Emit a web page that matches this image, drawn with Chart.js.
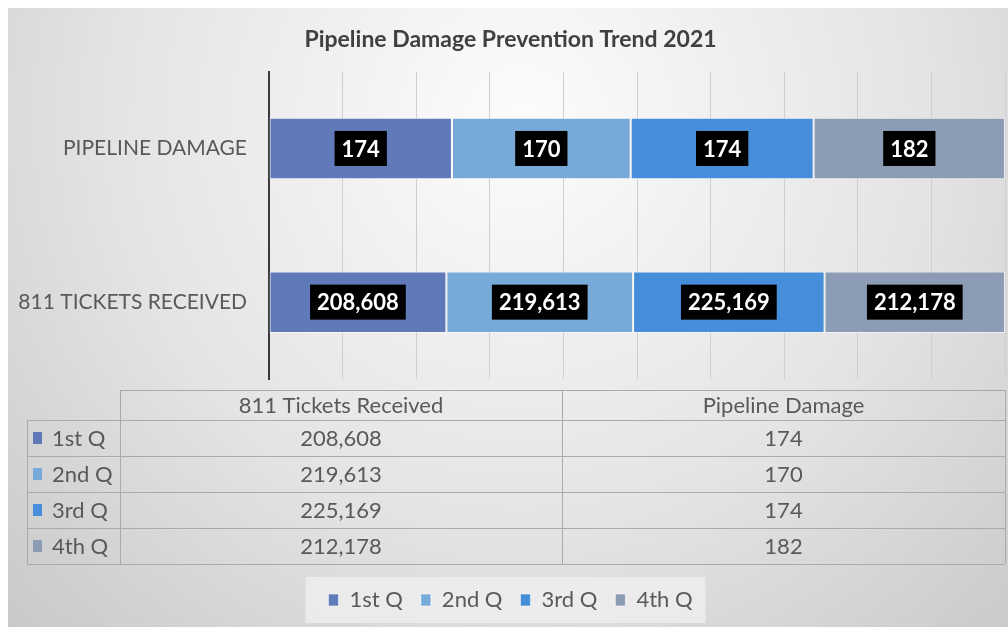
<!DOCTYPE html>
<html>
<head>
<meta charset="utf-8">
<script src="https://cdn.jsdelivr.net/npm/chart.js@4"></script>
<style>
  html, body { margin: 0; padding: 0; background: #fff; }
  #wrap { width: 1008px; height: 627px; }
</style>
</head>
<body>
<div id="wrap"><canvas id="chart" width="1008" height="627"></canvas></div>
<script>
// categories, bottom-to-top in the bar chart, left-to-right in the table
const categories = ['811 Tickets Received', 'Pipeline Damage'];
const quarters = ['1st Q', '2nd Q', '3rd Q', '4th Q'];
const q1Values = [208608, 174];
const q2Values = [219613, 170];
const q3Values = [225169, 174];
const q4Values = [212178, 182];
const quarterColors = ['#6079b8', '#78aad9', '#468ed9', '#8c9cb4'];
const xTicks = [0, 10, 20, 30, 40, 50, 60, 70, 80, 90, 100];

const seriesValues = [q1Values, q2Values, q3Values, q4Values];
const FONT = 'Lato, "Open Sans", sans-serif';

// share of each quarter within its category (100% stacked bar)
const totals = categories.map((c, i) => seriesValues.reduce((s, v) => s + v[i], 0));
const fmt = n => n.toLocaleString('en-US');

const backgroundPlugin = {
    id: 'background',
    beforeDraw(chart) {
        const ctx = chart.ctx;
        ctx.save();
        ctx.fillStyle = '#ffffff';
        ctx.fillRect(0, 0, chart.width, chart.height);
        const g = ctx.createRadialGradient(520, 120, 20, 520, 120, 720);
        g.addColorStop(0, '#fbfbfb');
        g.addColorStop(0.55, '#e4e4e4');
        g.addColorStop(1, '#c9c9c9');
        ctx.fillStyle = g;
        ctx.fillRect(8, 8, chart.width - 8, chart.height - 8);

        // lighter box behind the legend
        const boxes = chart.legend.legendHitBoxes;
        if (boxes && boxes.length) {
            const first = boxes[0], last = boxes[boxes.length - 1];
            ctx.fillStyle = 'rgba(240,240,240,0.75)';
            ctx.fillRect(first.left - 23, first.top - 12, last.left + last.width - first.left + 36, first.height + 24);
        }
        ctx.restore();
    }
};

const valueLabelPlugin = {
    id: 'valueLabels',
    afterDatasetsDraw(chart) {
        const ctx = chart.ctx;
        ctx.save();
        ctx.font = 'bold 22px ' + FONT;
        ctx.textAlign = 'center';
        ctx.textBaseline = 'middle';
        chart.data.datasets.forEach((ds, di) => {
            const meta = chart.getDatasetMeta(di);
            meta.data.forEach((bar, i) => {
                const text = fmt(seriesValues[di][i]);
                const cx = (bar.x + bar.base) / 2;
                const w = ctx.measureText(text).width + 14;
                const h = 35;
                ctx.fillStyle = '#000000';
                ctx.fillRect(cx - w / 2, bar.y - h / 2, w, h);
                ctx.fillStyle = '#ffffff';
                ctx.fillText(text, cx, bar.y + 1);
            });
        });
        ctx.restore();
    }
};

const dataTablePlugin = {
    id: 'dataTable',
    afterDraw(chart) {
        const ctx = chart.ctx;
        const top = chart.chartArea.bottom + 11;
        const headH = 30, rowH = 36;
        const xLeft = 27, xCol1 = 120, xCol2 = 562, xRight = 1005;
        const bottom = top + headH + rowH * quarters.length;
        ctx.save();
        ctx.strokeStyle = '#aaaaaa';
        ctx.lineWidth = 1;
        ctx.beginPath();
        ctx.moveTo(xCol1, top + 0.5); ctx.lineTo(xRight, top + 0.5);
        for (let r = 0; r <= quarters.length; r++) {
            const y = Math.round(top + headH + r * rowH) + 0.5;
            ctx.moveTo(xLeft, y); ctx.lineTo(xRight, y);
        }
        ctx.moveTo(xLeft + 0.5, top + headH); ctx.lineTo(xLeft + 0.5, bottom);
        [xCol1, xCol2, xRight].forEach(x => {
            ctx.moveTo(x + 0.5, top); ctx.lineTo(x + 0.5, bottom);
        });
        ctx.stroke();

        ctx.font = '22px ' + FONT;
        ctx.fillStyle = '#595959';
        ctx.textBaseline = 'middle';
        ctx.textAlign = 'center';
        const colCenters = [(xCol1 + xCol2) / 2, (xCol2 + xRight) / 2];
        categories.forEach((c, i) => ctx.fillText(c, colCenters[i], top + headH / 2 + 1));
        quarters.forEach((q, r) => {
            const cy = top + headH + r * rowH + rowH / 2;
            ctx.fillStyle = quarterColors[r];
            ctx.fillRect(33, cy - 6, 9, 12);
            ctx.fillStyle = '#595959';
            ctx.textAlign = 'left';
            ctx.fillText(q, 52, cy + 1);
            ctx.textAlign = 'center';
            categories.forEach((c, i) => ctx.fillText(fmt(seriesValues[r][i]), colCenters[i], cy + 1));
        });
        ctx.restore();
    }
};

new Chart(document.getElementById('chart'), {
    type: 'bar',
    data: {
        labels: categories,
        datasets: quarters.map((q, i) => ({
            label: q,
            data: seriesValues[i].map((v, c) => v / totals[c] * 100),
            backgroundColor: quarterColors[i],
            borderColor: 'rgba(255,255,255,0.55)',
            borderWidth: 1,
            borderSkipped: false,
            categoryPercentage: 1,
            barPercentage: 0.4
        }))
    },
    options: {
        indexAxis: 'y',
        responsive: false,
        animation: false,
        layout: { padding: { left: 16, right: 3, top: 0, bottom: 6 } },
        plugins: {
            title: {
                display: true,
                text: 'Pipeline Damage Prevention Trend 2021',
                color: '#404040',
                font: { family: FONT, size: 23, weight: 'bold' },
                padding: { top: 26, bottom: 18 }
            },
            legend: {
                position: 'bottom',
                labels: {
                    color: '#595959',
                    font: { family: FONT, size: 22 },
                    boxWidth: 10,
                    boxHeight: 12,
                    padding: 18
                }
            },
            tooltip: { enabled: false }
        },
        scales: {
            x: {
                stacked: true,
                min: 0,
                max: 100,
                afterBuildTicks(scale) { scale.ticks = xTicks.map(v => ({ value: v })); },
                afterFit(scale) { scale.height = 192; },
                ticks: { display: false },
                grid: { color: '#cfcfcf', lineWidth: 1, drawTicks: false },
                border: { display: false }
            },
            y: {
                stacked: true,
                reverse: true,
                afterFit(scale) { scale.width = 253; },
                ticks: {
                    color: '#595959',
                    font: { family: FONT, size: 21 },
                    padding: 22,
                    callback(v) { return categories[v].toUpperCase(); }
                },
                grid: { display: false, drawTicks: false },
                border: { display: true, color: '#3a3a3a', width: 2 }
            }
        }
    },
    plugins: [backgroundPlugin, valueLabelPlugin, dataTablePlugin]
});
</script>
</body>
</html>
